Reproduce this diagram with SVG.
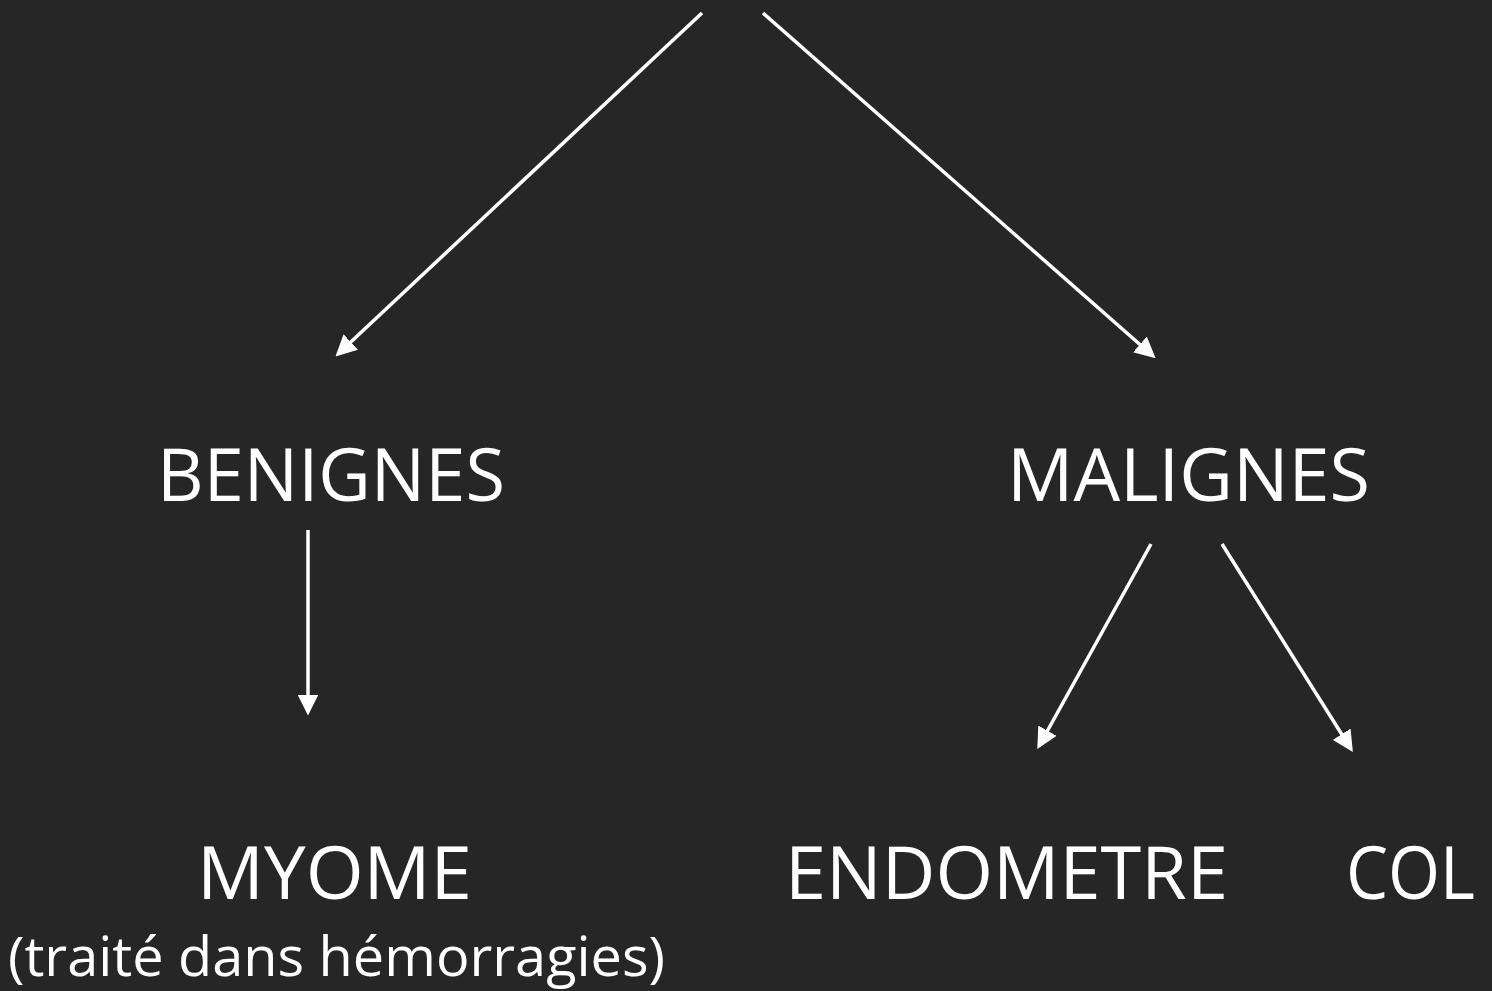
<svg xmlns="http://www.w3.org/2000/svg" width="1492" height="991" viewBox="0 0 1492 991">
<style>
.t{font-family:"Open Sans","Liberation Sans",sans-serif;fill:#ffffff;}
.c{stroke:#ffffff;stroke-width:3.5;fill:none;marker-end:url(#ah);}
</style>
<defs>
<marker id="ah" markerWidth="6" markerHeight="6" refX="5" refY="3" orient="auto" markerUnits="strokeWidth">
<path d="M0,0 L6,3 L0,6 Z" fill="#ffffff"/>
</marker>
</defs>
<rect width="1492" height="991" fill="#262626"/>
<g id="connectors">
<line class="c" x1="702" y1="13" x2="338" y2="354"/>
<line class="c" x1="763" y1="13" x2="1153" y2="356"/>
<line class="c" x1="308" y1="530" x2="308" y2="712"/>
<line class="c" x1="1151" y1="544" x2="1039" y2="746"/>
<line class="c" x1="1222" y1="544" x2="1351" y2="749"/>
</g>
<g id="benignes"><text class="t" x="157" y="501" font-size="73" textLength="348" lengthAdjust="spacingAndGlyphs">BENIGNES</text></g>
<g id="malignes"><text class="t" x="1007" y="501" font-size="73" textLength="363" lengthAdjust="spacingAndGlyphs">MALIGNES</text></g>
<g id="myome"><text class="t" x="197" y="899" font-size="73" textLength="275" lengthAdjust="spacingAndGlyphs">MYOME</text>
<text class="t" x="8" y="976" font-size="54" textLength="657" lengthAdjust="spacingAndGlyphs">(traité dans hémorragies)</text></g>
<g id="endometre"><text class="t" x="785" y="899" font-size="73" textLength="443" lengthAdjust="spacingAndGlyphs">ENDOMETRE</text></g>
<g id="col"><text class="t" x="1346" y="899" font-size="73" textLength="129" lengthAdjust="spacingAndGlyphs">COL</text></g>
</svg>
